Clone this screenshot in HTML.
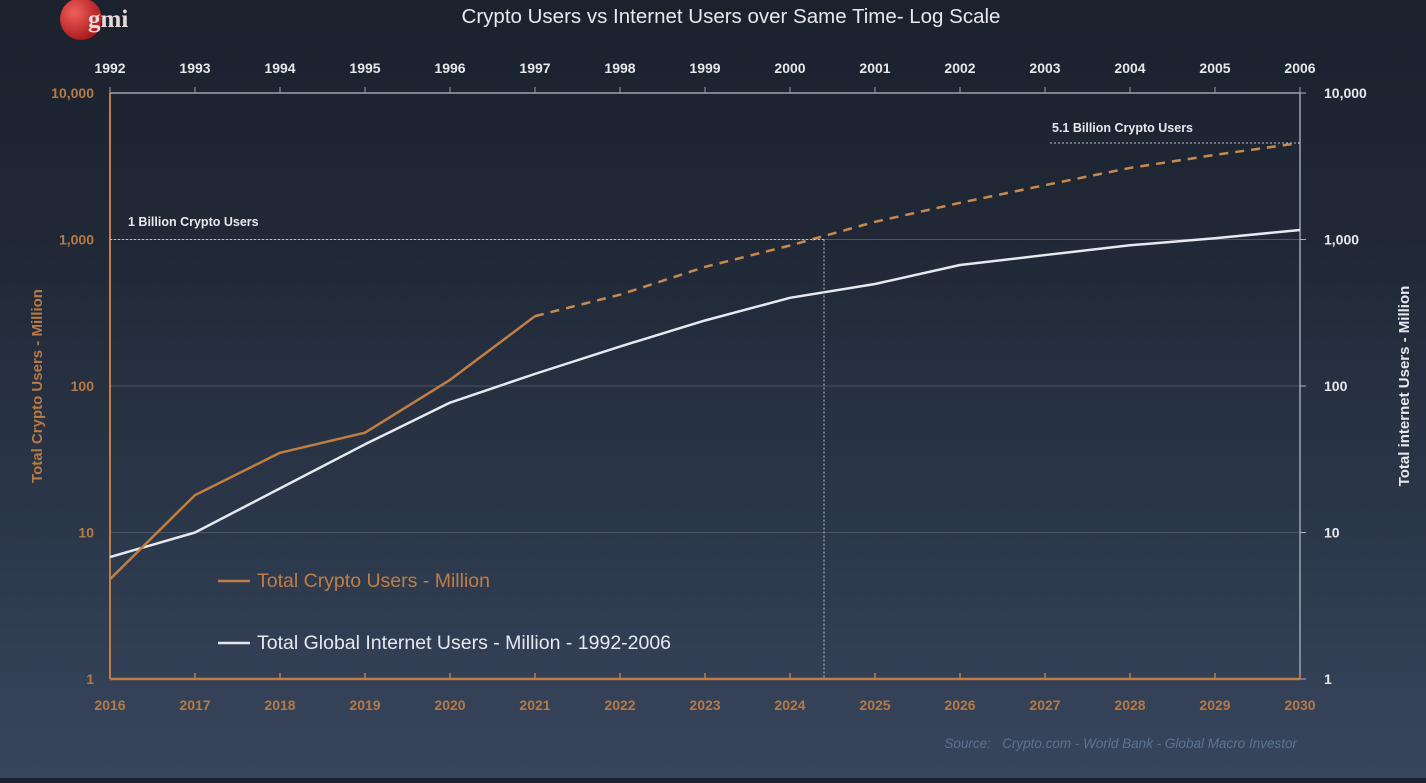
<!DOCTYPE html>
<html><head><meta charset="utf-8">
<style>
html,body{margin:0;padding:0;}
body{width:1426px;height:778px;overflow:hidden;background:linear-gradient(180deg,#1b212d 0%,#202836 30%,#2c384b 70%,#38465d 100%);font-family:"Liberation Sans",sans-serif;}
svg text{font-family:"Liberation Sans",sans-serif;}
</style></head>
<body>
<svg id="chart" width="1426" height="778">
  <g>
    <defs><radialGradient id="lg" cx="0.35" cy="0.35" r="0.7"><stop offset="0" stop-color="#f0605a"/><stop offset="1" stop-color="#a8161a"/></radialGradient></defs>
    <circle cx="81" cy="19" r="21" fill="url(#lg)"/>
    <text x="88" y="27" font-size="25" font-weight="bold" fill="#e8dada" style="font-family:'Liberation Serif',serif">gmi</text>
  </g>
  <text x="731" y="23" text-anchor="middle" font-size="20.5" fill="#e6e8ec">Crypto Users vs Internet Users over Same Time- Log Scale</text>
  <g id="grid"></g>
  <g id="axes"></g>
  <g id="series"></g>
  <g id="annot"></g>
  <text transform="translate(42,386) rotate(-90)" text-anchor="middle" font-size="15" font-weight="bold" fill="#b77a45">Total Crypto Users - Million</text>
  <text transform="translate(1409,386) rotate(-90)" text-anchor="middle" font-size="15" font-weight="bold" fill="#e6e8ec">Total internet Users - Million</text>
  <g>
    <line x1="218" y1="581" x2="250" y2="581" stroke="#c07e45" stroke-width="2.5"/>
    <text x="257" y="587" font-size="19.5" fill="#c07e45">Total Crypto Users - Million</text>
    <line x1="218" y1="643" x2="250" y2="643" stroke="#e6e9f0" stroke-width="2.5"/>
    <text x="257" y="649" font-size="19.5" fill="#e6e9f0">Total Global Internet Users - Million - 1992-2006</text>
  </g>
  <text x="1297" y="748" text-anchor="end" font-size="13.5" font-style="italic" fill="#5d7390">Source:&#160;&#160;&#160;Crypto.com - World Bank - Global Macro Investor</text>
</svg>
<script>
const years = [2016,2017,2018,2019,2020,2021,2022,2023,2024,2025,2026,2027,2028,2029,2030];
const topYears = [1992,1993,1994,1995,1996,1997,1998,1999,2000,2001,2002,2003,2004,2005,2006];
const cryptoActual = [4.8,18,35,48,110,300];
const cryptoProjYears = [2021,2022,2023,2024,2025,2026,2027,2028,2029,2030];
const cryptoProj = [300,420,650,910,1320,1780,2350,3080,3780,4560];
const internetUsers = [6.8,10,20,40,77,121,186,280,400,497,670,783,913,1020,1161];
const yTicks = [1,10,100,1000,10000];
const yTickLabels = ["1","10","100","1,000","10,000"];
const billionMarkYear = 2024.4;

const NS="http://www.w3.org/2000/svg";
const X0=110,X1=1300,Y1=93,Y0=679;
function xs(v){return X0+(v-2016)*(X1-X0)/14;}
function ys(v){return Y0-Math.log10(v)*(Y0-Y1)/4;}
function mk(tag,attrs,parent){const e=document.createElementNS(NS,tag);for(const k in attrs)e.setAttribute(k,attrs[k]);document.getElementById(parent).appendChild(e);return e;}

yTicks.forEach((t,i)=>{
  if(t>1&&t<10000){
    const g=mk('line',{x1:X0,x2:X1,y1:ys(t),y2:ys(t),stroke:'#4a5568','stroke-width':1},'grid');
    
    
  }
  const l=mk('text',{x:X0-16,y:ys(t)+5,'text-anchor':'end','font-size':14,'font-weight':'bold',fill:'#b77a45'},'axes');
  l.textContent=yTickLabels[i];
  
  
  const r=mk('text',{x:X1+24,y:ys(t)+5,'font-size':14,'font-weight':'bold',fill:'#e6e8ec'},'axes');
  r.textContent=yTickLabels[i];
  
  
  mk('line',{x1:X1,x2:X1+6,y1:ys(t),y2:ys(t),stroke:'#aab3c0','stroke-width':1},'axes');
});
let a;
a=mk('line',{x1:X0,x2:X0,y1:Y1,y2:Y0,stroke:'#c07e45','stroke-width':2},'axes');

a=mk('line',{x1:X0,x2:X1,y1:Y0,y2:Y0,stroke:'#c07e45','stroke-width':2.5},'axes');

a=mk('line',{x1:X0,x2:X1,y1:Y1,y2:Y1,stroke:'#9aa3b0','stroke-width':1.5},'axes');

a=mk('line',{x1:X1,x2:X1,y1:Y1,y2:Y0,stroke:'#9aa3b0','stroke-width':1.5},'axes');

years.forEach((y,i)=>{
  const x=xs(y);
  mk('line',{x1:x,x2:x,y1:Y0,y2:Y0-6,stroke:'#c07e45','stroke-width':1.5},'axes');
  mk('line',{x1:x,x2:x,y1:Y1,y2:Y1-6,stroke:'#9aa3b0','stroke-width':1},'axes');
  const b=mk('text',{x:x,y:Y0+31,'text-anchor':'middle','font-size':14,'font-weight':'bold',fill:'#b77a45'},'axes');
  b.textContent=y;
  
  
  const t=mk('text',{x:x,y:Y1-20,'text-anchor':'middle','font-size':14,'font-weight':'bold',fill:'#e6e8ec'},'axes');
  t.textContent=topYears[i];
  
  
});
const bx=xs(billionMarkYear);
a=mk('line',{x1:X0,x2:bx,y1:ys(1000),y2:ys(1000),stroke:'#b8c0cc','stroke-width':1,'stroke-dasharray':'2,2'},'annot');

a=mk('line',{x1:bx,x2:bx,y1:ys(1000),y2:Y0,stroke:'#b8c0cc','stroke-width':1,'stroke-dasharray':'2,2'},'annot');

a=mk('text',{x:128,y:226,'font-size':12.5,'font-weight':'bold',fill:'#e6e8ec'},'annot');a.textContent='1 Billion Crypto Users';

const lastC=cryptoProj[cryptoProj.length-1];
a=mk('line',{x1:1050,x2:X1,y1:ys(lastC),y2:ys(lastC),stroke:'#b8c0cc','stroke-width':1,'stroke-dasharray':'2,2'},'annot');

a=mk('text',{x:1052,y:132,'font-size':12.5,'font-weight':'bold',fill:'#e6e8ec'},'annot');a.textContent='5.1 Billion Crypto Users';

function pts(xsArr,vals){return vals.map((v,i)=>xs(xsArr[i])+','+ys(v)).join(' ');}
a=mk('polyline',{points:pts(years,internetUsers),fill:'none',stroke:'#e6e9f0','stroke-width':2.5,'stroke-linejoin':'round'},'series');

a=mk('polyline',{points:pts(years,cryptoActual),fill:'none',stroke:'#c07e45','stroke-width':2.5,'stroke-linejoin':'round'},'series');

a=mk('polyline',{points:pts(cryptoProjYears,cryptoProj),fill:'none',stroke:'#c98a50','stroke-width':2.5,'stroke-dasharray':'9,7'},'series');

</script>
</body></html>
